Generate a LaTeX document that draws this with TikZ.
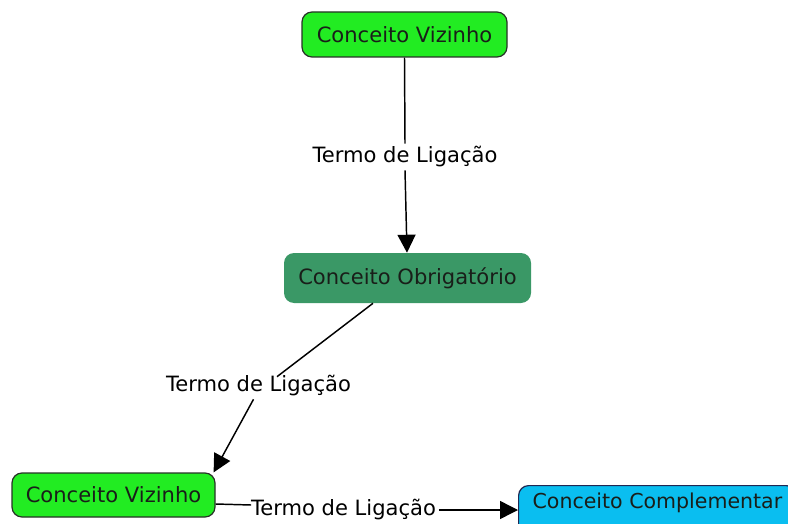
\documentclass[tikz,border=0pt]{standalone}
\usepackage{fontspec}
\setmainfont{DejaVu Sans}
\usetikzlibrary{arrows.meta,calc}
\definecolor{vizinho}{RGB}{34,236,34}
\definecolor{obrig}{RGB}{58,152,102}
\definecolor{compl}{RGB}{10,190,240}
\definecolor{borda}{RGB}{40,50,40}
\definecolor{texto}{RGB}{25,30,25}
\tikzset{
  concept/.style={rounded corners=7.5pt, font=\fontsize{15.8}{18}\selectfont, text=texto, inner sep=0pt},
  viz/.style={concept, fill=vizinho, draw=borda, line width=0.9pt},
  obr/.style={concept, fill=obrig, draw=none},
  cmp/.style={concept, fill=compl, draw=borda!80!blue, line width=0.9pt, font=\fontsize{15.4}{18}\selectfont},
  lig/.style={font=\fontsize{15.8}{18}\selectfont, text=black, inner sep=2pt},
  conn/.style={line width=1.1pt, black},
  arr/.style={conn, -{Triangle[length=13.5pt, width=13.5pt]}}
}
\begin{document}
\begin{tikzpicture}[x=0.75pt, y=-0.75pt]
\useasboundingbox (0,0) rectangle (788,524);
\node[viz, minimum width=153.75pt, minimum height=33.75pt] (v1) at (404.5,34.5) {Conceito Vizinho};
\node[obr, minimum width=185.25pt, minimum height=37.5pt] (ob) at (407.5,278) {Conceito Obrigatório};
\node[viz, minimum width=152.25pt, minimum height=33pt] (v2) at (113.5,495) {Conceito Vizinho};
\node[cmp, anchor=north west, inner xsep=10.5pt, inner ysep=4pt, text height=13.25pt, text depth=25pt, align=left] (cc) at (518,485) {Conceito Complementar};
\node[lig] (l1) at (405,157) {Termo de Ligação};
\node[lig] (l2) at (258.5,386) {Termo de Ligação};
\node[lig] (l3) at (343.5,510) {Termo de Ligação};
\draw[conn] (v1.south) -- (l1.north);
\draw[arr] (l1.south) -- ($(ob.north)+(-0.5,0)$);
\draw[conn] ($(ob.south)+(-34.5,0)$) -- ($(l2.north)+(18.5,4)$);
\draw[arr] ($(l2.south)+(-5,0)$) -- ($(v2.north east)+(-2,0)$);
\draw[conn] ($(v2.east)+(0,9)$) -- ($(l3.west)+(3,-5)$);
\draw[arr] (l3.east) -- (cc.west |- l3.east);
\end{tikzpicture}
\end{document}
